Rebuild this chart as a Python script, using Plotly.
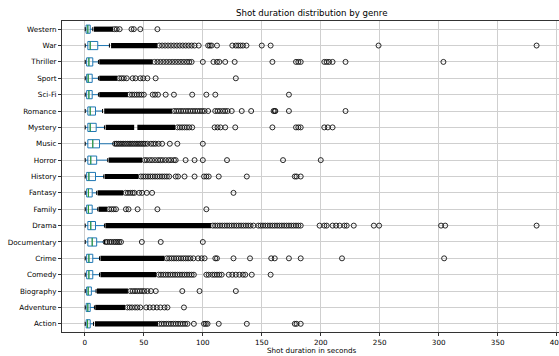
import plotly.graph_objects as go

# ---------------- data ----------------
genres = ["Action", "Adventure", "Biography", "Comedy", "Crime", "Documentary",
          "Drama", "Family", "Fantasy", "History", "Horror", "Music", "Mystery",
          "Romance", "Sci-Fi", "Sport", "Thriller", "War", "Western"]

lower_whisker = [0.3, 0.3, 0.3, 0.3, 0.3, 0.3, 0.3, 0.3, 0.3, 0.3, 0.3, 0.3, 0.3, 0.3, 0.3, 0.3, 0.3, 0.3, 0.3]
q1 = [1.1, 1.1, 1.5, 1.5, 1.5, 2.5, 2.5, 1.5, 1.5, 1.5, 2.5, 2.5, 2.5, 2.5, 1.5, 1.5, 1.5, 2.5, 1.0]
median = [2.3, 2.5, 2.8, 3.4, 3.4, 6.2, 5.0, 3.0, 3.0, 3.4, 5.0, 6.7, 4.5, 4.5, 3.4, 2.8, 3.4, 4.5, 2.5]
q3 = [4.5, 4.5, 5.5, 6.7, 6.7, 10.0, 9.0, 6.2, 6.2, 9.0, 10.0, 12.4, 9.6, 9.0, 6.2, 6.2, 6.7, 10.9, 4.5]
upper_whisker = [7.3, 8.1, 9.5, 12.4, 12.4, 16.6, 16.6, 10.9, 10.0, 16.0, 19.4, 25.0, 16.6, 15.0, 11.5, 11.5, 11.5, 20.8, 6.7]

# ranges where the outlier circles overlap into a solid black band
dense_start = [[8.5], [8.8], [10.2], [13.2], [13.2], [], [17.4], [11.6], [10.8], [16.8], [20.2], [], [17.6, 44.5],
               [16.4], [12.2], [12.2], [12.2], [22.2], [7.6]]
dense_end = [[62.0], [34.0], [36.5], [60.5], [67.5], [], [107.0], [19.0], [32.5], [45.5], [48.5], [], [41.8, 76.5],
             [74.0], [36.5], [27.5], [57.5], [61.5], [24.0]]

# individual (sparser) outliers
action_out = [63, 65, 67, 69, 71, 73, 75, 77, 79, 81, 83, 85, 87, 92.4, 101, 102.5, 104, 113.5, 137.3, 178, 179.5, 183]
adventure_out = [36, 38, 40, 42.5, 44.5, 47, 52, 55, 58, 61, 64, 67.5, 70, 84]
biography_out = [38.5, 40.5, 42.5, 44.5, 46.5, 48.5, 50.5, 53, 56, 60.1, 82.6, 97.2, 128]
comedy_out = [62.5, 64.5, 66.5, 68.5, 70.5, 72.5, 74.5, 76.5, 78.5, 80.5, 82.5, 84.5, 86.5, 88.5, 90.5, 92.4,
              103, 105, 108, 110, 112, 114, 116, 122, 125, 128, 131, 134, 136, 141.5, 157.5]
crime_out = [69.5, 71.5, 73.5, 75.5, 77.5, 79.5, 81.5, 83.5, 85.5, 87.5, 89.5, 92, 96, 99, 101.5,
             110.6, 112, 126, 140, 158, 161, 173, 183, 218, 304.6]
documentary_out = [17.5, 19, 21, 22.5, 24.5, 26, 27.5, 29, 30.6, 48.3, 64.3, 100]
drama_out = [108.5, 110.5, 112.5, 114.5, 116.5, 118.5, 120.5, 122.5, 124.5, 126.5, 128.5, 130.5, 132.5, 134.5,
             136.5, 138.5, 140.5, 143, 147, 149, 151, 153, 155, 157, 159, 161, 163, 165, 167, 169, 171, 173,
             175, 177, 179, 181, 183, 199, 203, 205, 210, 213, 216, 220, 222, 228, 245, 249.5, 302, 305.5, 383]
family_out = [20.5, 22.5, 24.5, 26.4, 34.8, 37, 44.7, 61.5, 103]
fantasy_out = [34.5, 36.5, 38.5, 40.5, 42, 46, 48.5, 52.5, 57, 126]
history_out = [47.5, 49.5, 51.5, 53.5, 55.5, 57.5, 59.5, 61.5, 63.5, 65.5, 67.5, 69.5, 71.5, 77, 79, 84.5, 93,
               101, 103, 105, 113.5, 137.3, 178, 179.5, 183]
horror_out = [50.5, 52.5, 55, 57, 59.5, 62, 64, 66, 68.5, 71, 73, 75.5, 77, 85.4, 93, 100, 120.5, 168, 200]
music_out = [25.5, 27, 28.5, 30, 31.5, 33, 34.5, 36, 37.5, 39, 40.5, 42, 43.5, 45, 46.5, 48, 49.5, 51, 53,
             56, 58, 60, 62.5, 65.5, 72, 78.4, 100]
mystery_out = [78.5, 80.5, 82.5, 84.5, 86.5, 88.5, 91, 110, 112.5, 115, 119, 127.5, 159, 179, 181, 183, 203, 206, 210]
romance_out = [75.5, 77.5, 79.5, 81.5, 83.5, 85.5, 87.5, 89.5, 91.5, 93.5, 95.5, 97.5, 99.5, 101.5, 104.5,
               110.5, 112.5, 114.5, 117, 119, 121, 124.5, 133, 141, 160, 161, 161.5, 173, 221]
scifi_out = [38, 40, 42, 44, 46, 48, 50, 57.5, 59.5, 62, 68.5, 75.5, 91, 103, 110.6, 173]
sport_out = [29, 31, 33, 35.5, 40.5, 43, 47, 49.5, 53, 60, 128]
thriller_out = [59, 61.5, 64, 66.5, 69, 71.5, 74, 76.5, 79, 81.5, 84, 86.5, 88.5, 90.5, 100, 109, 112, 114, 119,
                127, 159, 179, 181, 183, 203, 205, 207, 210, 221, 304]
war_out = [63, 65.5, 68, 70.5, 73, 75.5, 78, 80.5, 83, 85.5, 88, 90.5, 93, 96.5, 104.5, 106, 107.5, 112,
           125, 128, 130, 132, 134, 137, 150, 157.5, 249, 383]
western_out = [25, 27, 29.5, 39.5, 41.5, 47, 61.5]

outlier_lists = [action_out, adventure_out, biography_out, comedy_out, crime_out, documentary_out,
                 drama_out, family_out, fantasy_out, history_out, horror_out, music_out, mystery_out,
                 romance_out, scifi_out, sport_out, thriller_out, war_out, western_out]

x_ticks = [0, 50, 100, 150, 200, 250, 300, 350, 400]
title_text = "Shot duration distribution by genre"
xlabel_text = "Shot duration in seconds"

# ---------------- figure ----------------
BLUE = "#1f77b4"
GREEN = "#2ca02c"
FONT = "DejaVu Sans"
pos = list(range(len(genres)))

fig = go.Figure()

# dense outlier bands
bx, by = [], []
for i, (starts, ends) in enumerate(zip(dense_start, dense_end)):
    for s, e in zip(starts, ends):
        bx += [s, e, None]
        by += [i, i, None]
fig.add_trace(go.Scatter(x=bx, y=by, mode="lines", line=dict(color="black", width=5.2),
                         hoverinfo="skip", showlegend=False, cliponaxis=False))

# individual outliers
ox, oy = [], []
for i, vals in enumerate(outlier_lists):
    ox += vals
    oy += [i] * len(vals)
fig.add_trace(go.Scatter(x=ox, y=oy, mode="markers",
                         marker=dict(symbol="circle-open", size=5, color="#111111", line=dict(width=0.9)),
                         showlegend=False))

# boxes
fig.add_trace(go.Box(y=pos, q1=q1, median=median, q3=q3,
                     lowerfence=lower_whisker, upperfence=upper_whisker,
                     orientation="h", width=0.5, whiskerwidth=0,
                     line=dict(color=BLUE, width=1), fillcolor="rgba(0,0,0,0)",
                     boxpoints=False, showlegend=False))

# medians (green) and caps (black)
mx, my, cx, cy = [], [], [], []
for i in pos:
    mx += [median[i], median[i], None]
    my += [i - 0.25, i + 0.25, None]
    for v in (lower_whisker[i], upper_whisker[i]):
        cx += [v, v, None]
        cy += [i - 0.125, i + 0.125, None]
fig.add_trace(go.Scatter(x=mx, y=my, mode="lines", line=dict(color=GREEN, width=1),
                         hoverinfo="skip", showlegend=False))
fig.add_trace(go.Scatter(x=cx, y=cy, mode="lines", line=dict(color="black", width=1),
                         hoverinfo="skip", showlegend=False))

fig.update_layout(
    width=559, height=356,
    margin=dict(l=62, r=0, t=21, b=24, autoexpand=False),
    paper_bgcolor="white", plot_bgcolor="white",
    font=dict(family=FONT, size=7.2, color="black"),
    showlegend=False,
    xaxis=dict(range=[-19.4, 402], tickvals=x_ticks, ticktext=[str(t) for t in x_ticks],
               automargin=False, ticklabeloverflow="allow",
               showgrid=True, gridcolor="#cfcfcf", gridwidth=1, zeroline=False,
               showline=True, linecolor="#333333", linewidth=1, mirror=True,
               ticks="outside", ticklen=3, tickcolor="#333333",
               tickfont=dict(family=FONT, size=7.2, color="black")),
    yaxis=dict(range=[-0.5, 18.5], tickvals=pos, ticktext=genres,
               automargin=False,
               showgrid=True, gridcolor="#cfcfcf", gridwidth=1, zeroline=False,
               showline=True, linecolor="#333333", linewidth=1, mirror=False,
               ticks="outside", ticklen=3, tickcolor="#333333",
               tickfont=dict(family=FONT, size=7.2, color="black")),
    annotations=[
        dict(text=title_text, xref="x", yref="paper", x=192.5, y=1.0257,
             xanchor="center", yanchor="middle", showarrow=False,
             font=dict(family=FONT, size=8.64, color="black")),
        dict(text=xlabel_text, xref="x", yref="paper", x=192.5, y=-0.058,
             xanchor="center", yanchor="middle", showarrow=False,
             font=dict(family=FONT, size=7.2, color="black")),
    ],
)

fig.write_html("out.html")
